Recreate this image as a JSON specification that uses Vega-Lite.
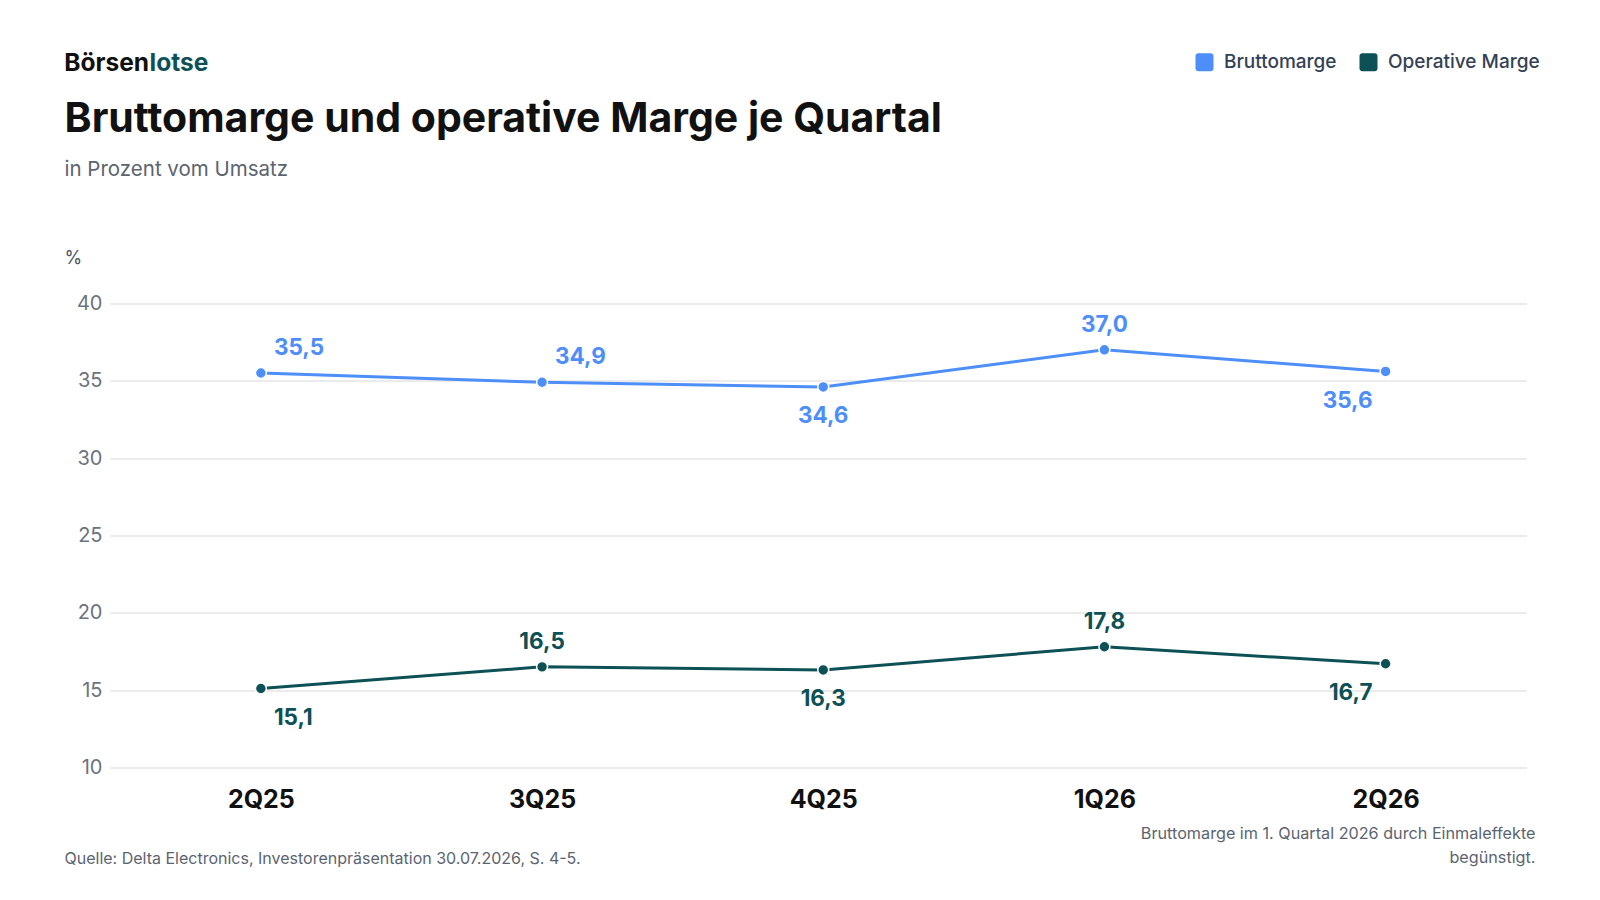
{
  "$schema": "https://vega.github.io/schema/vega-lite/v6.json",
  "autosize": {"type": "none"},
  "width": 1416,
  "height": 464,
  "padding": {"left": 110, "top": 303.4, "right": 74, "bottom": 132.6},
  "background": "#ffffff",
  "config": {
    "locale": {"number": {"decimal": ",", "thousands": ".", "grouping": [3], "currency": ["", " €"]}},
    "view": {"stroke": null},
    "font": "Inter",
    "axis": {"labelFont": "Inter", "titleFont": "Inter"},
    "legend": {"labelFont": "Inter", "titleFont": "Inter"}
  },
  "title": {
    "text": "Bruttomarge und operative Marge je Quartal",
    "subtitle": "in Prozent vom Umsatz",
    "anchor": "start",
    "frame": "group",
    "dx": -45.5,
    "offset": -131,
    "font": "Inter",
    "fontSize": 41,
    "fontWeight": 700,
    "color": "#111111",
    "subtitleFont": "Inter",
    "subtitleFontSize": 20.5,
    "subtitleColor": "#5b6470",
    "subtitlePadding": 19
  },
  "data": {
    "values": [
      {"quarter": "2Q25", "series": "Bruttomarge", "value": 35.5},
      {"quarter": "3Q25", "series": "Bruttomarge", "value": 34.9},
      {"quarter": "4Q25", "series": "Bruttomarge", "value": 34.6},
      {"quarter": "1Q26", "series": "Bruttomarge", "value": 37.0},
      {"quarter": "2Q26", "series": "Bruttomarge", "value": 35.6},
      {"quarter": "2Q25", "series": "Operative Marge", "value": 15.1},
      {"quarter": "3Q25", "series": "Operative Marge", "value": 16.5},
      {"quarter": "4Q25", "series": "Operative Marge", "value": 16.3},
      {"quarter": "1Q26", "series": "Operative Marge", "value": 17.8},
      {"quarter": "2Q26", "series": "Operative Marge", "value": 16.7}
    ]
  },
  "encoding": {
    "color": {
      "field": "series",
      "type": "nominal",
      "scale": {"domain": ["Bruttomarge", "Operative Marge"], "range": ["#4d8ef8", "#0d5156"]},
      "legend": {
        "orient": "none",
        "legendX": 1085,
        "legendY": -251,
        "direction": "horizontal",
        "title": null,
        "symbolType": "M-0.7,-1H0.7A0.3,0.3 0 0 1 1,-0.7V0.7A0.3,0.3 0 0 1 0.7,1H-0.7A0.3,0.3 0 0 1 -1,0.7V-0.7A0.3,0.3 0 0 1 -0.7,-1Z",
        "symbolSize": 324,
        "symbolStrokeWidth": 0,
        "symbolOpacity": 1,
        "labelFontSize": 19,
        "labelFontWeight": 500,
        "labelColor": "#334155",
        "labelOffset": 10,
        "columnPadding": 22
      }
    }
  },
  "layer": [
    {
      "mark": {"type": "line", "strokeWidth": 3},
      "encoding": {
        "x": {
          "field": "quarter",
          "type": "ordinal",
          "sort": ["2Q25", "3Q25", "4Q25", "1Q26", "2Q26"],
          "scale": {"type": "point", "padding": 0.518, "align": 0.518},
          "axis": {
            "orient": "bottom",
            "domain": false,
            "ticks": false,
            "tickSize": 0,
            "grid": false,
            "labelAngle": 0,
            "labelFontSize": 25,
            "labelFontWeight": 700,
            "labelColor": "#111111",
            "labelPadding": 20,
            "title": "Quelle: Delta Electronics, Investorenpräsentation 30.07.2026, S. 4-5.",
            "titleX": -46,
            "titleY": 96.2,
            "titleAlign": "left",
            "titleAnchor": "start",
            "titleBaseline": "alphabetic",
            "titleFontSize": 16,
            "titleFontWeight": 400,
            "titleColor": "#5b6470"
          }
        },
        "y": {
          "field": "value",
          "type": "quantitative",
          "scale": {"domain": [10, 40], "nice": false, "zero": false},
          "axis": {
            "orient": "left",
            "values": [10, 15, 20, 25, 30, 35, 40],
            "domain": false,
            "ticks": false,
            "tickSize": 0,
            "grid": true,
            "gridColor": "#e5e5e5",
            "gridWidth": 1.5,
            "labelFontSize": 20,
            "labelColor": "#6b7280",
            "labelPadding": 8,
            "title": "%",
            "titleAngle": 0,
            "titleX": -46,
            "titleY": -39.5,
            "titleAlign": "left",
            "titleBaseline": "alphabetic",
            "titleFontSize": 18,
            "titleFontWeight": 400,
            "titleColor": "#4b5563"
          }
        }
      }
    },
    {
      "mark": {"type": "point", "filled": true, "size": 120, "opacity": 1, "stroke": "#ffffff", "strokeWidth": 1.5},
      "encoding": {
        "x": {
          "field": "quarter",
          "type": "ordinal",
          "sort": ["2Q25", "3Q25", "4Q25", "1Q26", "2Q26"],
          "scale": {"type": "point", "padding": 0.518, "align": 0.518},
          "axis": {
            "orient": "top",
            "domain": false,
            "ticks": false,
            "labels": false,
            "grid": false,
            "title": "Börsen",
            "titleX": -46.3,
            "titleY": -232.7,
            "titleAlign": "left",
            "titleAnchor": "start",
            "titleBaseline": "alphabetic",
            "titleFontSize": 24.5,
            "titleFontWeight": 700,
            "titleColor": "#111111"
          }
        },
        "y": {
          "field": "value",
          "type": "quantitative",
          "scale": {"domain": [10, 40], "nice": false, "zero": false},
          "axis": {
            "orient": "right",
            "domain": false,
            "ticks": false,
            "labels": false,
            "grid": false,
            "title": "lotse",
            "titleAngle": 0,
            "titleX": -1377,
            "titleY": -232.7,
            "titleAlign": "left",
            "titleBaseline": "alphabetic",
            "titleFontSize": 24.5,
            "titleFontWeight": 700,
            "titleColor": "#0d5156"
          }
        }
      }
    },
    {
      "mark": {
        "type": "text",
        "font": "Inter",
        "fontSize": 22.5,
        "fontWeight": 700,
        "baseline": "alphabetic",
        "align": {"expr": "datum.quarter === '2Q25' || (datum.series === 'Bruttomarge' && datum.quarter === '3Q25') ? 'left' : datum.quarter === '2Q26' ? 'right' : 'center'"},
        "dx": {"expr": "datum.quarter === '2Q25' || (datum.series === 'Bruttomarge' && datum.quarter === '3Q25') ? 13 : datum.quarter === '2Q26' ? -13 : 0"},
        "dy": {"expr": "datum.quarter === '3Q25' || datum.quarter === '1Q26' || (datum.series === 'Bruttomarge' && datum.quarter === '2Q25') ? -18 : 36.5"}
      },
      "encoding": {
        "x": {
          "field": "quarter",
          "type": "ordinal",
          "sort": ["2Q25", "3Q25", "4Q25", "1Q26", "2Q26"],
          "scale": {"type": "point", "padding": 0.518, "align": 0.518},
          "axis": {
            "orient": "bottom",
            "domain": false,
            "ticks": false,
            "labels": false,
            "grid": false,
            "title": ["Bruttomarge im 1. Quartal 2026 durch Einmaleffekte", "begünstigt."],
            "titleX": 1425,
            "titleY": 70.7,
            "titleAlign": "right",
            "titleAnchor": "end",
            "titleBaseline": "alphabetic",
            "titleLineHeight": 24.5,
            "titleFontSize": 16.2,
            "titleFontWeight": 400,
            "titleColor": "#5b6470"
          }
        },
        "y": {
          "field": "value",
          "type": "quantitative",
          "scale": {"domain": [10, 40], "nice": false, "zero": false},
          "axis": null
        },
        "text": {"field": "value", "type": "quantitative", "format": ".1f"}
      }
    }
  ],
  "resolve": {"axis": {"x": "independent", "y": "independent"}}
}
